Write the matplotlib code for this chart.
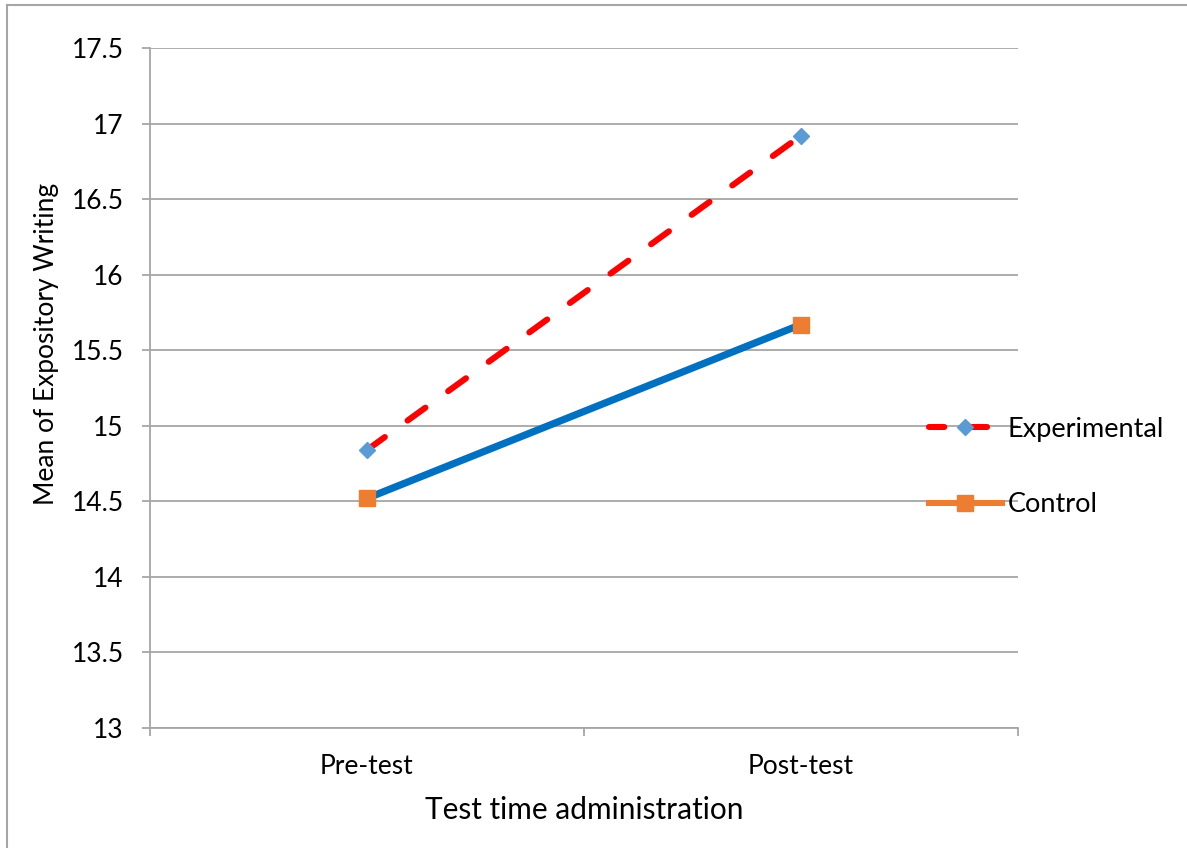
import matplotlib.pyplot as plt
from matplotlib.lines import Line2D

plt.rcParams['font.family'] = ['Lato', 'DejaVu Sans']

# data
categories = ['Pre-test', 'Post-test']
experimental = [14.84, 16.92]
control = [14.52, 15.67]
yticks = [13, 13.5, 14, 14.5, 15, 15.5, 16, 16.5, 17, 17.5]
ytick_labels = ['13', '13.5', '14', '14.5', '15', '15.5', '16', '16.5', '17', '17.5']

W, H = 1187, 848
fig = plt.figure(figsize=(W / 100, H / 100), dpi=100)
ax = fig.add_axes([150 / W, (H - 728) / H, 868 / W, 680 / H])

grey = '#A6A6A6'
x = list(range(len(categories)))

# control: blue line, orange squares
ax.plot(x, control, color='#0070C0', lw=5.2, solid_capstyle='butt', zorder=3)
ax.plot(x, control, ls='none', marker='s', ms=11, mfc='#ED7D31', mec='#ED7D31', zorder=4)
# experimental: red dashed line, blue diamonds
ax.plot(x, experimental, color='#FF0000', lw=4.4, dashes=(3.6, 4.6), dash_capstyle='round', zorder=3)
ax.plot(x, experimental, ls='none', marker='D', ms=8.5, mfc='#5B9BD5', mec='#5B9BD5', zorder=4)

ax.set_xlim(-0.5, 1.5)
ax.set_ylim(13, 17.5)
ax.set_yticks(yticks)
ax.set_yticklabels(ytick_labels)
ax.set_xticks(x)
ax.set_xticklabels(categories)
ax.set_xticks([-0.5, 0.5, 1.5], minor=True)
ax.yaxis.grid(True, color=grey, lw=1.3)
ax.set_axisbelow(True)

for s in ['top', 'right']:
    ax.spines[s].set_visible(False)
for s in ['left', 'bottom']:
    ax.spines[s].set_color(grey)
    ax.spines[s].set_linewidth(1.3)

ax.tick_params(axis='y', length=6, width=1.3, color=grey, pad=13, labelsize=19)
ax.tick_params(axis='x', which='major', length=0, pad=19, labelsize=19)
ax.tick_params(axis='x', which='minor', length=6, width=1.3, color=grey)

fig.text(47 / W, 1 - 344 / H, 'Mean of Expository Writing', rotation=90,
         ha='center', va='center', fontsize=19)
fig.text(584 / W, 1 - 810 / H, 'Test time administration',
         ha='center', va='center', fontsize=21.5)

handles = [
    Line2D([], [], color='#FF0000', lw=4.4, dashes=(2.5, 4.5), dash_capstyle='round',
           marker='D', ms=8.5, mfc='#5B9BD5', mec='#5B9BD5'),
    Line2D([], [], color='#ED7D31', lw=4.4, marker='s', ms=11, mfc='#ED7D31', mec='#ED7D31'),
]
fig.legend(handles, ['Experimental', 'Control'], loc='center left',
           bbox_to_anchor=(918 / W, 1 - 467 / H), frameon=False, fontsize=19.5,
           handlelength=2.7, handletextpad=0.2, labelspacing=1.85, borderaxespad=0)

# chart frame (left and top edges)
fig.add_artist(Line2D([7 / W, 7 / W], [0, 1 - 5 / H], color=grey, lw=1.5))
fig.add_artist(Line2D([7 / W, 1], [1 - 5 / H, 1 - 5 / H], color=grey, lw=1.5))

fig.savefig('out.png', dpi=100)
